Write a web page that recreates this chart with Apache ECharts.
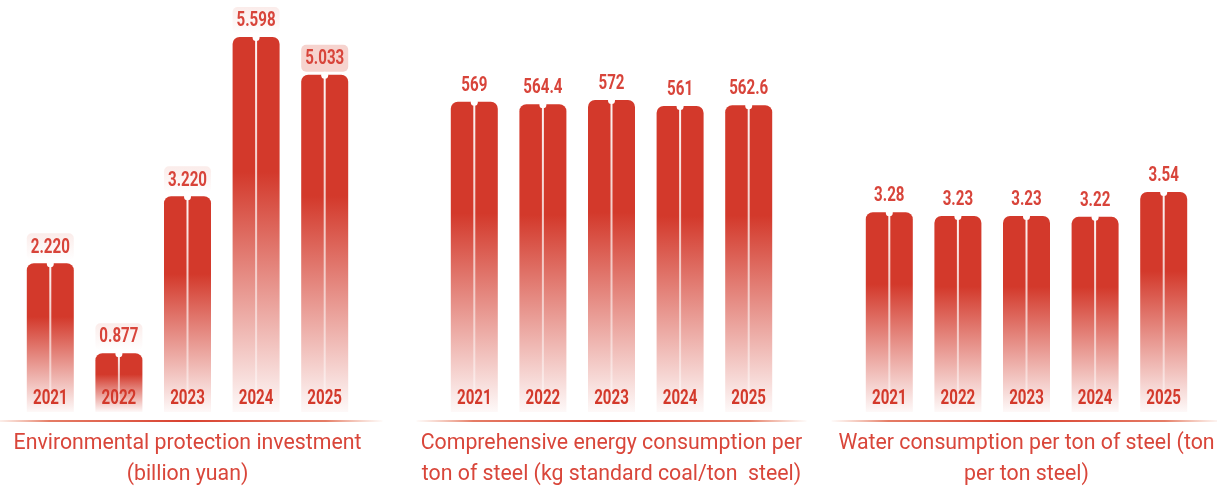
<!DOCTYPE html>
<html><head><meta charset="utf-8">
<script src="https://cdn.jsdelivr.net/npm/echarts@6/dist/echarts.min.js"></script>
<style>html,body{margin:0;padding:0;background:#fff}#c{width:1217px;height:488px}</style>
</head><body><div id="c"></div>
<script>
// ---- data ----
const years = ['2021', '2022', '2023', '2024', '2025'];
const investment = [2.220, 0.877, 3.220, 5.598, 5.033];
const investmentLabels = ['2.220', '0.877', '3.220', '5.598', '5.033'];
const energy = [569, 564.4, 572, 561, 562.6];
const energyLabels = ['569', '564.4', '572', '561', '562.6'];
const water = [3.28, 3.23, 3.23, 3.22, 3.54];
const waterLabels = ['3.28', '3.23', '3.23', '3.22', '3.54'];
const titles = [
  'Environmental protection investment\n(billion yuan)',
  'Comprehensive energy consumption per\nton of steel (kg standard coal/ton  steel)',
  'Water consumption per ton of steel (ton\nper ton steel)'
];

// ---- layout / style ----
const panels = [
  { data: investment, labels: investmentLabels, left: 16, min: 0, max: 6 },
  { data: energy, labels: energyLabels, left: 440, min: 0, max: 737 },
  { data: water, labels: waterLabels, left: 855, min: 0.72, max: 5.87 }
];
const GRID_W = 343, GRID_TOP = 10, GRID_BOTTOM = 76;
const RED = '#d3392b';
const LABEL_RED = '#d8443a';
const BAR_W = 47;

const chart = echarts.init(document.getElementById('c'), null, { renderer: 'canvas' });

function makeRender(p) {
  const panel = panels[p];
  return function (params, api) {
    const i = params.dataIndex;
    const top = api.coord([api.value(0), api.value(1)]);
    const base = api.coord([api.value(0), panel.min]);
    const cx = top[0];
    const x = cx - BAR_W / 2, y = top[1], h = base[1] - top[1];
    const barGrad = new echarts.graphic.LinearGradient(0, 0, 0, 1, [
      { offset: 0, color: RED },
      { offset: 0.36, color: RED },
      { offset: 1, color: 'rgba(211,57,43,0.03)' }
    ]);
    const lineGrad = new echarts.graphic.LinearGradient(0, 0, 0, 1, [
      { offset: 0, color: 'rgba(255,255,255,0.95)' },
      { offset: 1, color: 'rgba(255,255,255,0.4)' }
    ]);
    const children = [];
    if (p === 0) {
      const strong = (i === 4);
      children.push({
        type: 'rect',
        shape: { x: x, y: y - 30, width: BAR_W, height: 27, r: 5 },
        style: {
          fill: strong ? '#f6d3ce' : new echarts.graphic.LinearGradient(0, 0, 0, 1, [
            { offset: 0, color: 'rgba(243,200,194,0.35)' },
            { offset: 1, color: 'rgba(243,200,194,0)' }
          ])
        }
      });
    }
    children.push(
      { type: 'rect', shape: { x: x, y: y, width: BAR_W, height: h, r: [7, 7, 0, 0] }, style: { fill: barGrad } },
      { type: 'rect', shape: { x: cx - 1, y: y, width: 2, height: Math.max(0, h - 12) }, style: { fill: lineGrad } },
      { type: 'circle', shape: { cx: cx, cy: y + 0.5, r: 3.5 }, style: { fill: '#fff' } },
      {
        type: 'text', x: cx, y: y - 16, scaleX: 0.72,
        style: {
          text: panel.labels[i], fill: LABEL_RED,
          fontFamily: 'Roboto', fontWeight: 'bold', fontSize: 21,
          align: 'center', verticalAlign: 'middle', textAlign: 'center', textVerticalAlign: 'middle'
        }
      },
      {
        type: 'text', x: cx, y: base[1] - 13, scaleX: 0.72,
        style: {
          text: years[i], fill: RED,
          fontFamily: 'Roboto', fontWeight: 'bold', fontSize: 21,
          align: 'center', verticalAlign: 'middle', textAlign: 'center', textVerticalAlign: 'middle'
        }
      }
    );
    return { type: 'group', children: children };
  };
}

const grid = [], xAxis = [], yAxis = [], series = [], title = [], graphic = [];
panels.forEach((panel, p) => {
  grid.push({ left: panel.left, width: GRID_W, top: GRID_TOP, bottom: GRID_BOTTOM });
  xAxis.push({ type: 'category', gridIndex: p, data: years, show: false });
  yAxis.push({ type: 'value', gridIndex: p, min: panel.min, max: panel.max, show: false, splitLine: { show: false } });
  series.push({
    type: 'custom', xAxisIndex: p, yAxisIndex: p,
    renderItem: makeRender(p),
    data: panel.data.map((v, i) => [i, v]),
    clip: false
  });
  const center = panel.left + GRID_W / 2;
  title.push({
    text: titles[p], left: center, top: 428, textAlign: 'center', padding: 0,
    textStyle: { fontFamily: 'Roboto', fontWeight: 'normal', fontSize: 21.3, color: '#d9463a', lineHeight: 31, align: 'center' }
  });
  graphic.push({
    type: 'line', silent: true,
    shape: { x1: center - 195, y1: 421, x2: center + 195, y2: 421 },
    style: {
      lineWidth: 2,
      stroke: new echarts.graphic.LinearGradient(0, 0, 1, 0, [
        { offset: 0, color: 'rgba(235,150,120,0)' },
        { offset: 0.15, color: 'rgba(226,110,85,0.9)' },
        { offset: 0.5, color: '#d8402f' },
        { offset: 0.85, color: 'rgba(226,110,85,0.9)' },
        { offset: 1, color: 'rgba(235,150,120,0)' }
      ])
    }
  });
});

chart.setOption({
  animation: false,
  backgroundColor: '#fff',
  title: title,
  grid: grid,
  xAxis: xAxis,
  yAxis: yAxis,
  series: series,
  graphic: graphic
});
</script>
</body></html>
